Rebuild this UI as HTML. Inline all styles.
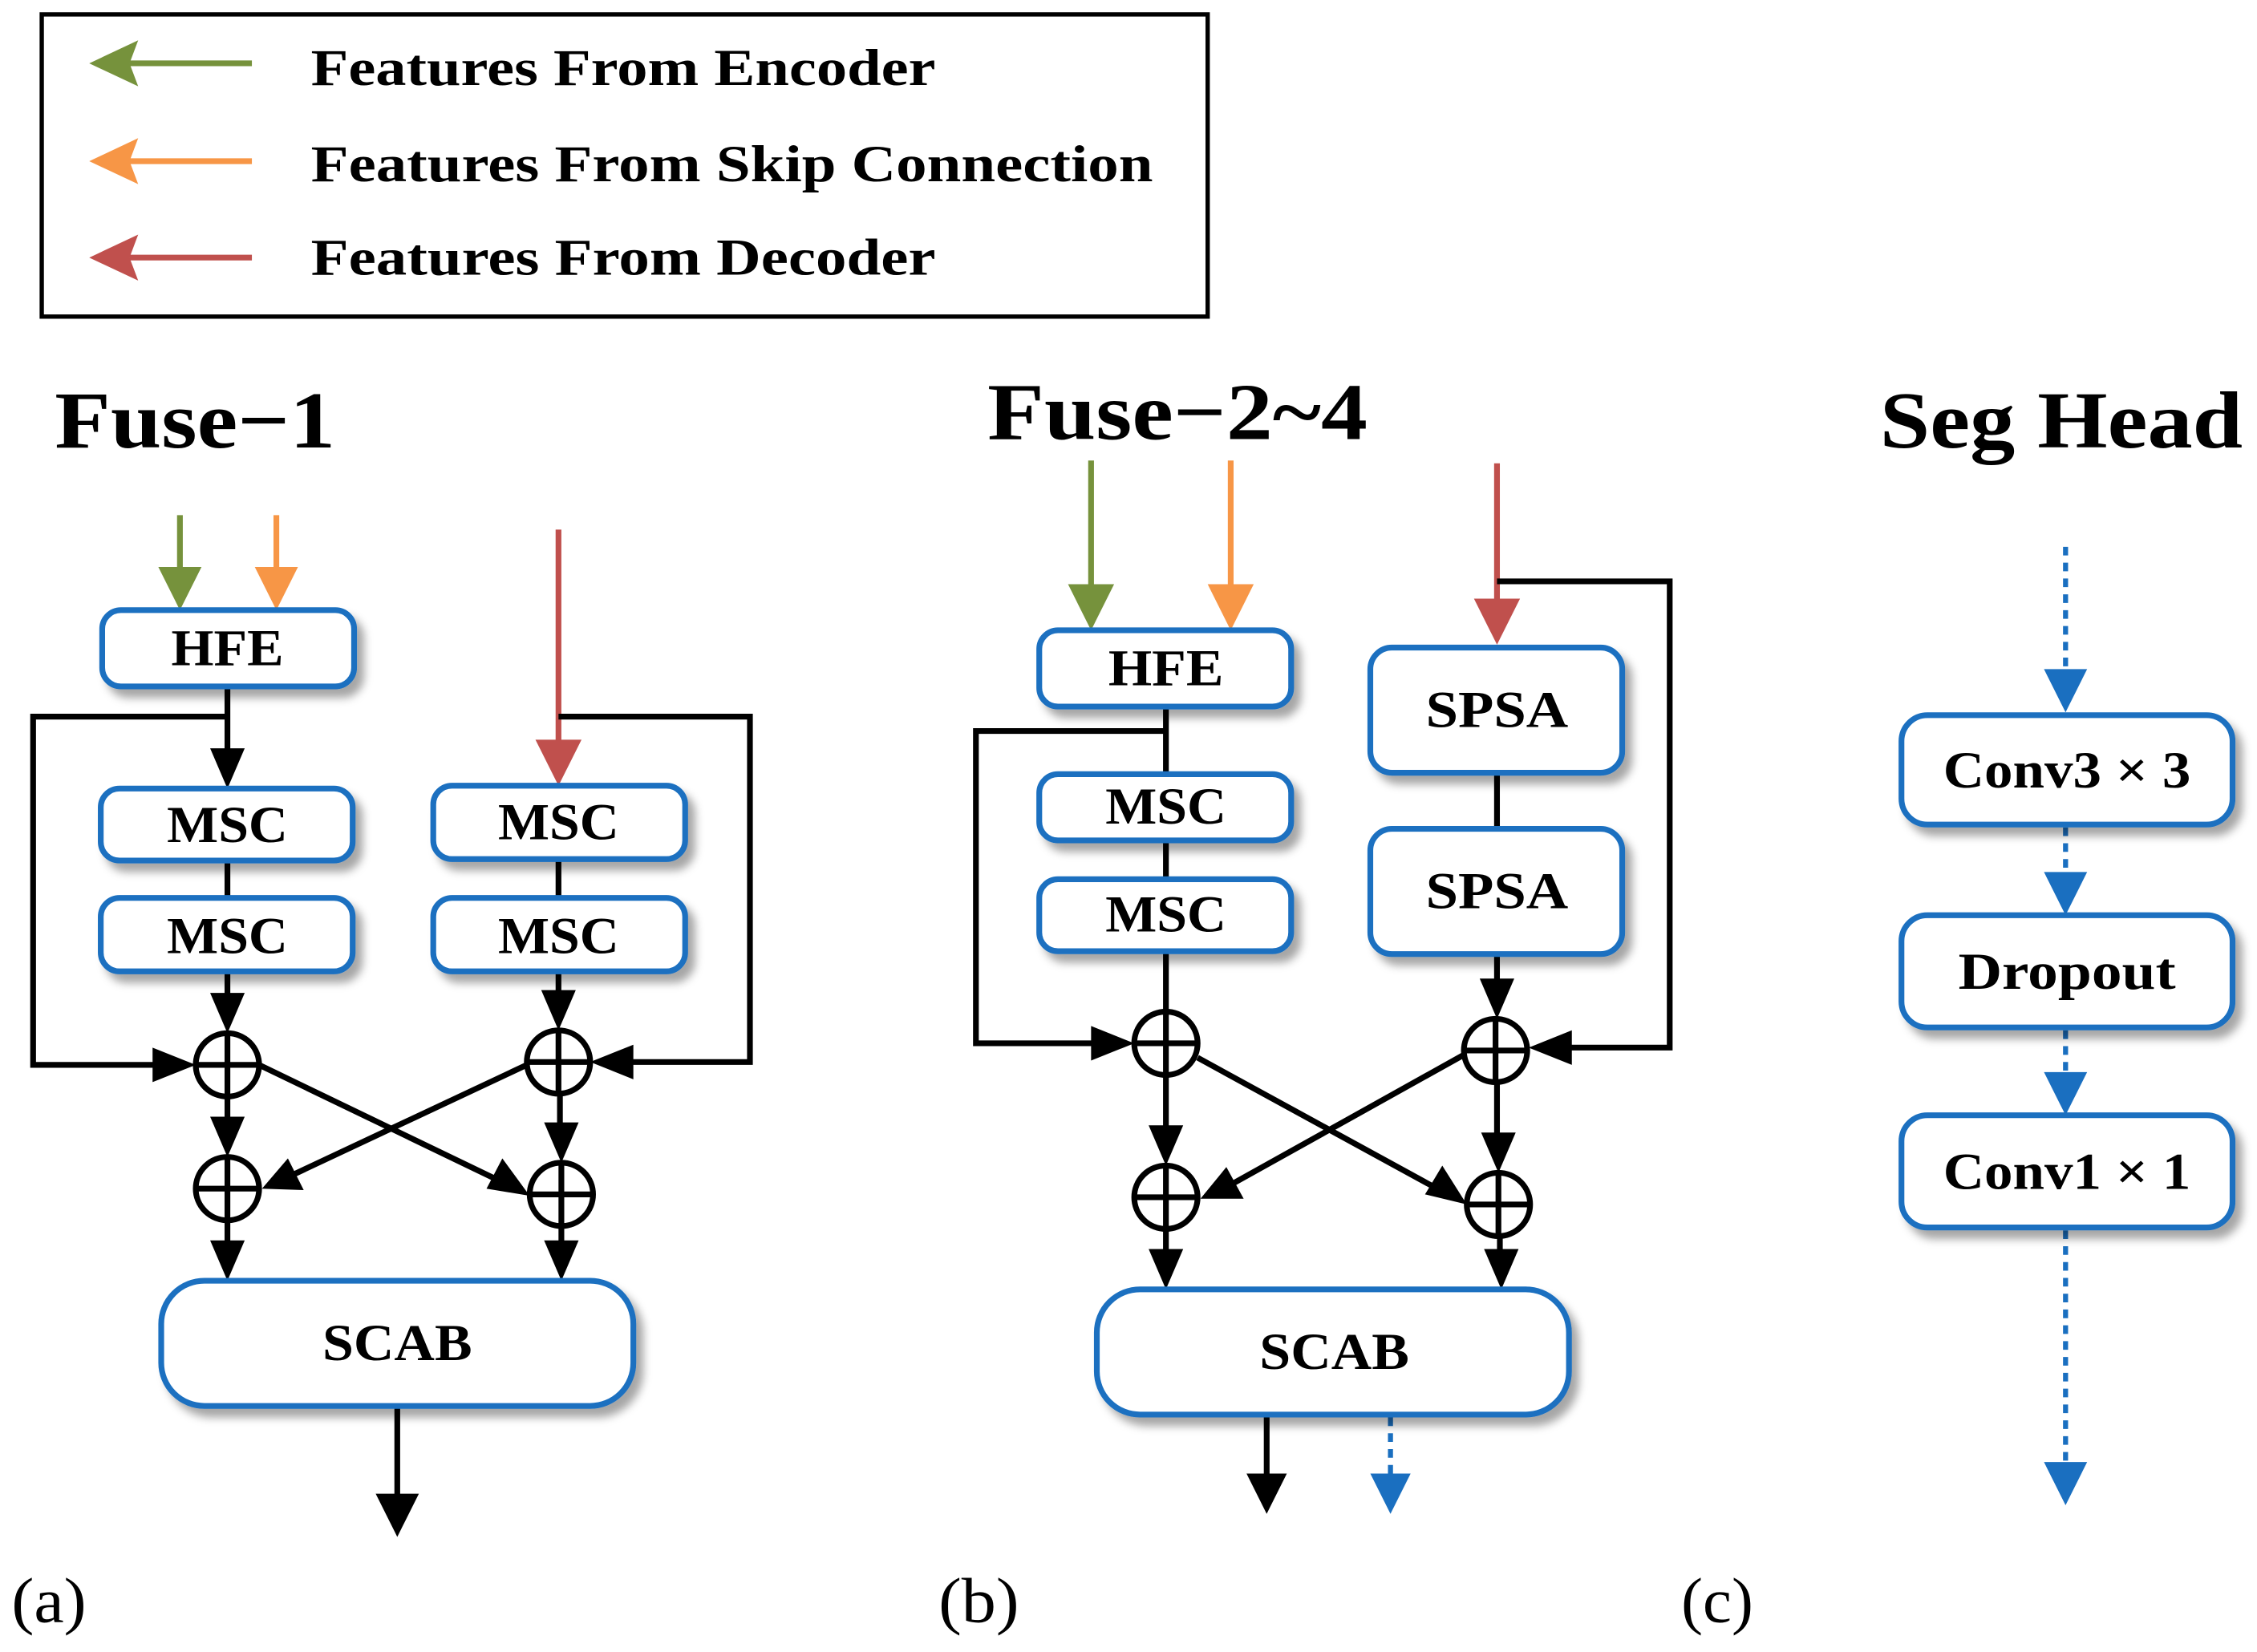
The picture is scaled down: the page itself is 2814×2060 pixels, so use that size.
<!DOCTYPE html>
<html><head><meta charset="utf-8"><style>html,body{margin:0;padding:0;background:#fff}svg{display:block}</style></head>
<body>
<svg width="2814" height="2060" viewBox="0 0 1568 1148" preserveAspectRatio="none" xmlns="http://www.w3.org/2000/svg" font-family="'Liberation Serif',serif" font-weight="bold">
<defs>
<filter id="sh" x="-20%" y="-20%" width="150%" height="160%"><feDropShadow dx="5" dy="6" stdDeviation="3" flood-color="#000" flood-opacity="0.35"/></filter>
</defs>
<style>
.bx{fill:#fff;stroke:#1a6fc0;stroke-width:4;filter:url(#sh)}
.t{font-size:36px;text-anchor:middle;dominant-baseline:central}
.k{stroke:#000;stroke-width:4;fill:none}
.c{fill:#fff;stroke:#000;stroke-width:4}
.bd{stroke:#1a6fc0;stroke-width:3.5;stroke-dasharray:6,5;fill:none}
</style>
<!-- legend -->
<rect x="29" y="10" width="810" height="210" fill="none" stroke="#000" stroke-width="3"/>
<line x1="175" y1="44" x2="90" y2="44" stroke="#76923c" stroke-width="4"/><path d="M62,44 L96,28 L90,44 L96,60 z" fill="#76923c"/>
<line x1="175" y1="112" x2="90" y2="112" stroke="#f79646" stroke-width="4"/><path d="M62,112 L96,96 L90,112 L96,128 z" fill="#f79646"/>
<line x1="175" y1="179" x2="90" y2="179" stroke="#c0504d" stroke-width="4"/><path d="M62,179 L96,163 L90,179 L96,195 z" fill="#c0504d"/>
<text x="216" y="59" font-size="36" textLength="434" lengthAdjust="spacingAndGlyphs">Features From Encoder</text>
<text x="216" y="126" font-size="36" textLength="585" lengthAdjust="spacingAndGlyphs">Features From Skip Connection</text>
<text x="216" y="191" font-size="36" textLength="434" lengthAdjust="spacingAndGlyphs">Features From Decoder</text>
<!-- titles -->
<text x="38" y="311" font-size="56" textLength="195" lengthAdjust="spacingAndGlyphs">Fuse−1</text>
<text x="686" y="305" font-size="56" textLength="264" lengthAdjust="spacingAndGlyphs">Fuse−2~4</text>
<text x="1306" y="311" font-size="56" textLength="252" lengthAdjust="spacingAndGlyphs">Seg Head</text>
<!-- Fuse-1 -->
<line x1="125" y1="358" x2="125" y2="400" stroke="#76923c" stroke-width="4"/><path d="M125,424 L110,394 L140,394 z" fill="#76923c"/>
<line x1="192" y1="358" x2="192" y2="400" stroke="#f79646" stroke-width="4"/><path d="M192,424 L177,394 L207,394 z" fill="#f79646"/>
<line x1="388" y1="368" x2="388" y2="520" stroke="#c0504d" stroke-width="4"/><path d="M388,546 L372,514 L404,514 z" fill="#c0504d"/>
<path class="k" d="M158,477 V530"/><path d="M158,548 L146,520 L170,520 z"/>
<path class="k" d="M158,498 H23 V740 H115"/><path d="M136,740 L106,728 L106,752 z"/>
<path class="k" d="M388,498 H521 V738 H430"/><path d="M410,738 L440,726 L440,750 z"/>
<path class="k" d="M158,598 V624 M388,597 V624"/>
<path class="k" d="M158,675 V700"/><path d="M158,718 L146,690 L170,690 z"/>
<path class="k" d="M388,675 V698"/><path d="M388,716 L376,688 L400,688 z"/>
<path class="k" d="M158,762 V786"/><path d="M158,804 L146,776 L170,776 z"/>
<path class="k" d="M389,760 V790"/><path d="M390,808 L378,780 L402,780 z"/>
<path class="k" d="M180,740 L350,822"/><path d="M368,831 L338,826 L349,805 z"/>
<path class="k" d="M366,740 L200,818"/><path d="M182,826 L200,805 L211,827 z"/>
<path class="k" d="M158,848 V872"/><path d="M158,890 L146,862 L170,862 z"/>
<path class="k" d="M390,852 V872"/><path d="M390,890 L378,862 L402,862 z"/>
<path class="k" d="M276,977 V1045"/><path d="M276,1068 L261,1038 L291,1038 z"/>
<circle class="c" cx="158" cy="740" r="22"/><path class="k" d="M136,740 H180 M158,718 V762"/>
<circle class="c" cx="388" cy="738" r="22"/><path class="k" d="M366,738 H410 M388,716 V760"/>
<circle class="c" cx="158" cy="826" r="22"/><path class="k" d="M136,826 H180 M158,804 V848"/>
<circle class="c" cx="390" cy="830" r="22"/><path class="k" d="M368,830 H412 M390,808 V852"/>
<rect class="bx" x="71" y="424" width="175" height="53" rx="13"/><text class="t" x="158" y="450" textLength="78" lengthAdjust="spacingAndGlyphs">HFE</text>
<rect class="bx" x="70" y="548" width="175" height="50" rx="13"/><text class="t" x="158" y="573" textLength="84" lengthAdjust="spacingAndGlyphs">MSC</text>
<rect class="bx" x="70" y="624" width="175" height="51" rx="13"/><text class="t" x="158" y="650" textLength="84" lengthAdjust="spacingAndGlyphs">MSC</text>
<rect class="bx" x="301" y="546" width="175" height="51" rx="13"/><text class="t" x="388" y="571" textLength="84" lengthAdjust="spacingAndGlyphs">MSC</text>
<rect class="bx" x="301" y="624" width="175" height="51" rx="13"/><text class="t" x="388" y="650" textLength="84" lengthAdjust="spacingAndGlyphs">MSC</text>
<rect class="bx" x="112" y="890" width="328" height="87" rx="30"/><text class="t" x="276" y="933" textLength="104" lengthAdjust="spacingAndGlyphs">SCAB</text>
<!-- Fuse-2~4 -->
<line x1="758" y1="320" x2="758" y2="412" stroke="#76923c" stroke-width="4"/><path d="M758,438 L742,406 L774,406 z" fill="#76923c"/>
<line x1="855" y1="320" x2="855" y2="412" stroke="#f79646" stroke-width="4"/><path d="M855,438 L839,406 L871,406 z" fill="#f79646"/>
<line x1="1040" y1="322" x2="1040" y2="422" stroke="#c0504d" stroke-width="4"/><path d="M1040,448 L1024,416 L1056,416 z" fill="#c0504d"/>
<path class="k" d="M1040,404 H1160 V728 H1082"/><path d="M1062,728 L1092,716 L1092,740 z"/>
<path class="k" d="M810,491 V703"/><path class="k" d="M810,508 H678 V725 H765"/><path d="M788,725 L758,713 L758,737 z"/>
<path class="k" d="M1040,537 V576"/>
<path class="k" d="M1040,663 V690"/><path d="M1040,708 L1028,680 L1052,680 z"/>
<path class="k" d="M810,747 V792"/><path d="M810,810 L798,782 L822,782 z"/>
<path class="k" d="M1040,752 V797"/><path d="M1041,815 L1029,787 L1053,787 z"/>
<path class="k" d="M832,735 L1002,828"/><path d="M1019,837 L990,830 L1002,810 z"/>
<path class="k" d="M1017,733 L852,825"/><path d="M834,833 L852,811 L864,833 z"/>
<path class="k" d="M810,854 V878"/><path d="M810,896 L798,868 L822,868 z"/>
<path class="k" d="M1042,859 V878"/><path d="M1043,896 L1031,868 L1055,868 z"/>
<path class="k" d="M880,983 V1030"/><path d="M880,1052 L866,1024 L894,1024 z"/>
<path class="bd" d="M966,985 V1028"/><path d="M966,1052 L952,1024 L980,1024 z" fill="#1a6fc0"/>
<circle class="c" cx="810" cy="725" r="22"/><path class="k" d="M788,725 H832 M810,703 V747"/>
<circle class="c" cx="1039" cy="730" r="22"/><path class="k" d="M1017,730 H1061 M1039,708 V752"/>
<circle class="c" cx="810" cy="832" r="22"/><path class="k" d="M788,832 H832 M810,810 V854"/>
<circle class="c" cx="1041" cy="837" r="22"/><path class="k" d="M1019,837 H1063 M1041,815 V859"/>
<rect class="bx" x="722" y="438" width="175" height="53" rx="13"/><text class="t" x="810" y="464" textLength="80" lengthAdjust="spacingAndGlyphs">HFE</text>
<rect class="bx" x="722" y="538" width="175" height="46" rx="13"/><text class="t" x="810" y="560" textLength="84" lengthAdjust="spacingAndGlyphs">MSC</text>
<rect class="bx" x="722" y="611" width="175" height="50" rx="13"/><text class="t" x="810" y="635" textLength="84" lengthAdjust="spacingAndGlyphs">MSC</text>
<rect class="bx" x="952" y="450" width="175" height="87" rx="15"/><text class="t" x="1040" y="493" textLength="99" lengthAdjust="spacingAndGlyphs">SPSA</text>
<rect class="bx" x="952" y="576" width="175" height="87" rx="15"/><text class="t" x="1040" y="619" textLength="99" lengthAdjust="spacingAndGlyphs">SPSA</text>
<rect class="bx" x="762" y="896" width="328" height="87" rx="30"/><text class="t" x="927" y="939" textLength="104" lengthAdjust="spacingAndGlyphs">SCAB</text>
<!-- Seg head -->
<path class="bd" d="M1435,380 V470"/><path d="M1435,495 L1420,465 L1450,465 z" fill="#1a6fc0"/>
<path class="bd" d="M1435,575 V612"/><path d="M1435,636 L1420,606 L1450,606 z" fill="#1a6fc0"/>
<path class="bd" d="M1435,716 V752"/><path d="M1435,775 L1420,745 L1450,745 z" fill="#1a6fc0"/>
<path class="bd" d="M1435,855 V1020"/><path d="M1435,1046 L1420,1016 L1450,1016 z" fill="#1a6fc0"/>
<rect class="bx" x="1321" y="497" width="230" height="76" rx="18"/><text class="t" x="1436" y="535" textLength="172" lengthAdjust="spacingAndGlyphs">Conv3 × 3</text>
<rect class="bx" x="1321" y="636" width="230" height="78" rx="18"/><text class="t" x="1436" y="675" textLength="151" lengthAdjust="spacingAndGlyphs">Dropout</text>
<rect class="bx" x="1321" y="775" width="230" height="78" rx="18"/><text class="t" x="1436" y="814" textLength="172" lengthAdjust="spacingAndGlyphs">Conv1 × 1</text>
<text x="8" y="1127" font-size="44" font-weight="normal" textLength="52" lengthAdjust="spacingAndGlyphs">(a)</text>
<text x="652" y="1127" font-size="44" font-weight="normal" textLength="56" lengthAdjust="spacingAndGlyphs">(b)</text>
<text x="1168" y="1127" font-size="44" font-weight="normal" textLength="50" lengthAdjust="spacingAndGlyphs">(c)</text>
</svg>
</body></html>
